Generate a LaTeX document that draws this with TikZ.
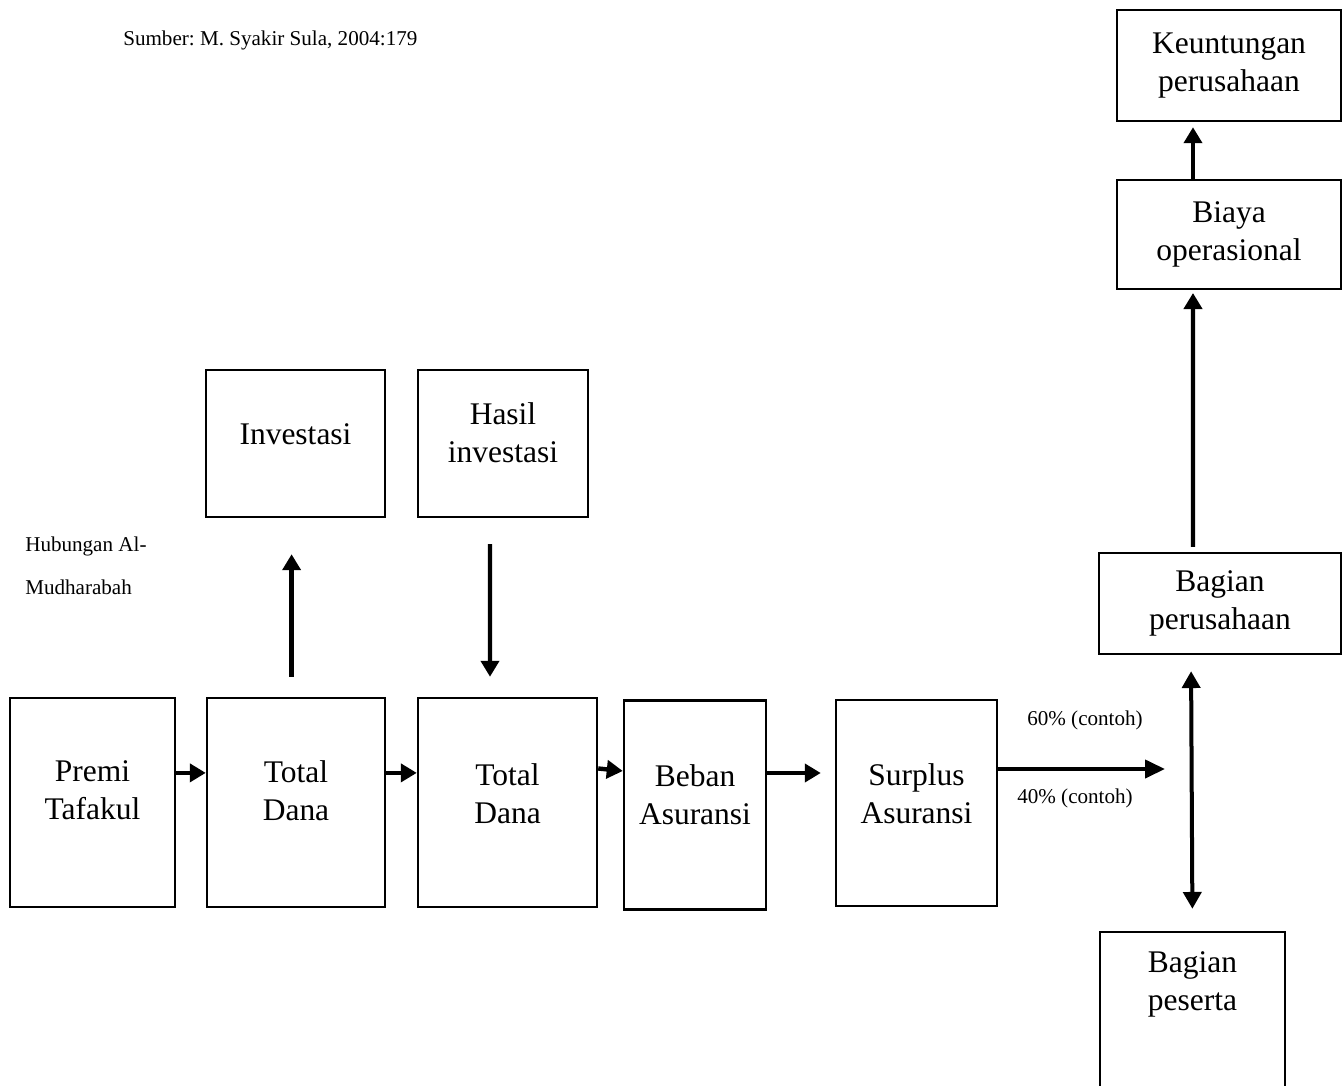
\documentclass[tikz,border=0pt]{standalone}
\usepackage{fontspec}
\setmainfont{Liberation Serif}
\usetikzlibrary{arrows.meta}
\frenchspacing

\tikzset{
  kotak/.style={draw=black, line width=0.06cm, align=center, inner sep=0pt,
    font=\fontsize{22.4}{27}\selectfont},
  naik/.style={text depth=#1},
  panah/.style={line width=0.11cm, -{Triangle[length=0.4cm,width=0.45cm]}},
  panahdua/.style={line width=0.1cm, {Triangle[length=0.42cm,width=0.45cm]}-{Triangle[length=0.42cm,width=0.45cm]}},
  catatan/.style={font=\fontsize{15}{18}\selectfont, inner sep=0pt}
}

\begin{document}
\begin{tikzpicture}[x=0.025cm, y=-0.025cm]
\useasboundingbox (0,0) rectangle (1344,1086);

\node[catatan, anchor=west] (sumber) at (123,40) {Sumber: M. Syakir Sula, 2004:179};
\node[catatan, anchor=west, align=left, font=\fontsize{15}{30.6}\selectfont] (hubungan) at (25,566) {Hubungan Al-\\Mudharabah};

\node[kotak, naik=0.6cm, minimum width=4.125cm, minimum height=5.225cm] (premi) at (92.5,802.5) {Premi\\Tafakul};
\node[kotak, naik=0.6cm, minimum width=4.45cm, minimum height=5.225cm] (dana1) at (296,802.5) {Total\\Dana};
\node[kotak, naik=0.45cm, minimum width=4.475cm, minimum height=5.225cm] (dana2) at (507.5,802.5) {Total\\Dana};
\node[kotak, naik=0.5cm, minimum width=3.55cm, minimum height=5.225cm] (beban) at (695,805) {Beban\\Asuransi};
\node[kotak, naik=0.45cm, minimum width=4.025cm, minimum height=5.15cm] (surplus) at (916.5,803) {Surplus\\Asuransi};

\node[kotak, naik=0.45cm, minimum width=4.475cm, minimum height=3.675cm] (investasi) at (295.5,443.5) {Investasi};
\node[kotak, naik=0.55cm, minimum width=4.25cm, minimum height=3.675cm] (hasil) at (503,443.5) {Hasil\\investasi};

\node[kotak, minimum width=5.6cm, minimum height=2.775cm] (untung) at (1229,65.5) {Keuntungan\\perusahaan};
\node[kotak, minimum width=5.6cm, minimum height=2.725cm] (biaya) at (1229,234.5) {Biaya\\operasional};
\node[kotak, minimum width=6.05cm, minimum height=2.525cm] (perusahaan) at (1220,603.5) {Bagian\\perusahaan};
\node[kotak, minimum width=4.625cm, minimum height=4.5cm] (peserta) at (1192.5,1022) {};
\node[kotak, draw=none, anchor=north, yshift=-0.48cm] (pesertateks) at (peserta.north) {Bagian\\peserta};

\draw[panah] ([yshift=0.74cm]premi.east) -- ([yshift=0.74cm]dana1.west);
\draw[panah] ([yshift=0.74cm]dana1.east) -- ([yshift=0.74cm]dana2.west);
\draw[panah] ([yshift=0.85cm]dana2.east) -- ([yshift=0.85cm]beban.west);
\draw[panah, shorten >=0.35cm] ([yshift=0.8cm]beban.east) -- ([yshift=0.8cm]beban.east -| surplus.west);

\draw[panah, shorten <=0.5cm, shorten >=0.9cm] ([xshift=-0.11cm]dana1.north) -- ([xshift=-0.11cm]dana1.north |- investasi.south);
\draw[panah, shorten <=0.65cm, shorten >=0.5cm] ([xshift=-0.325cm]hasil.south) -- ([xshift=-0.4375cm]dana2.north);

\coordinate (bagi) at (1165,769);
\draw[line width=0.1cm, -{Triangle[length=0.5cm,width=0.45cm]}] (surplus.east |- bagi) -- (bagi);
\node[catatan] (enampuluh) at (1085,720) {60\% (contoh)};
\node[catatan] (empatpuluh) at (1075,798) {40\% (contoh)};

\draw[panahdua, shorten <=0.4cm, shorten >=0.55cm] ([xshift=-0.725cm]perusahaan.south) -- (peserta.north);
\draw[panah, shorten <=0.125cm, shorten >=0.07cm] ([xshift=-0.675cm]perusahaan.north) -- ([xshift=-0.9cm]biaya.south);
\draw[panah, shorten >=0.125cm] ([xshift=-0.9cm]biaya.north) -- ([xshift=-0.9cm]untung.south);

\end{tikzpicture}
\end{document}
